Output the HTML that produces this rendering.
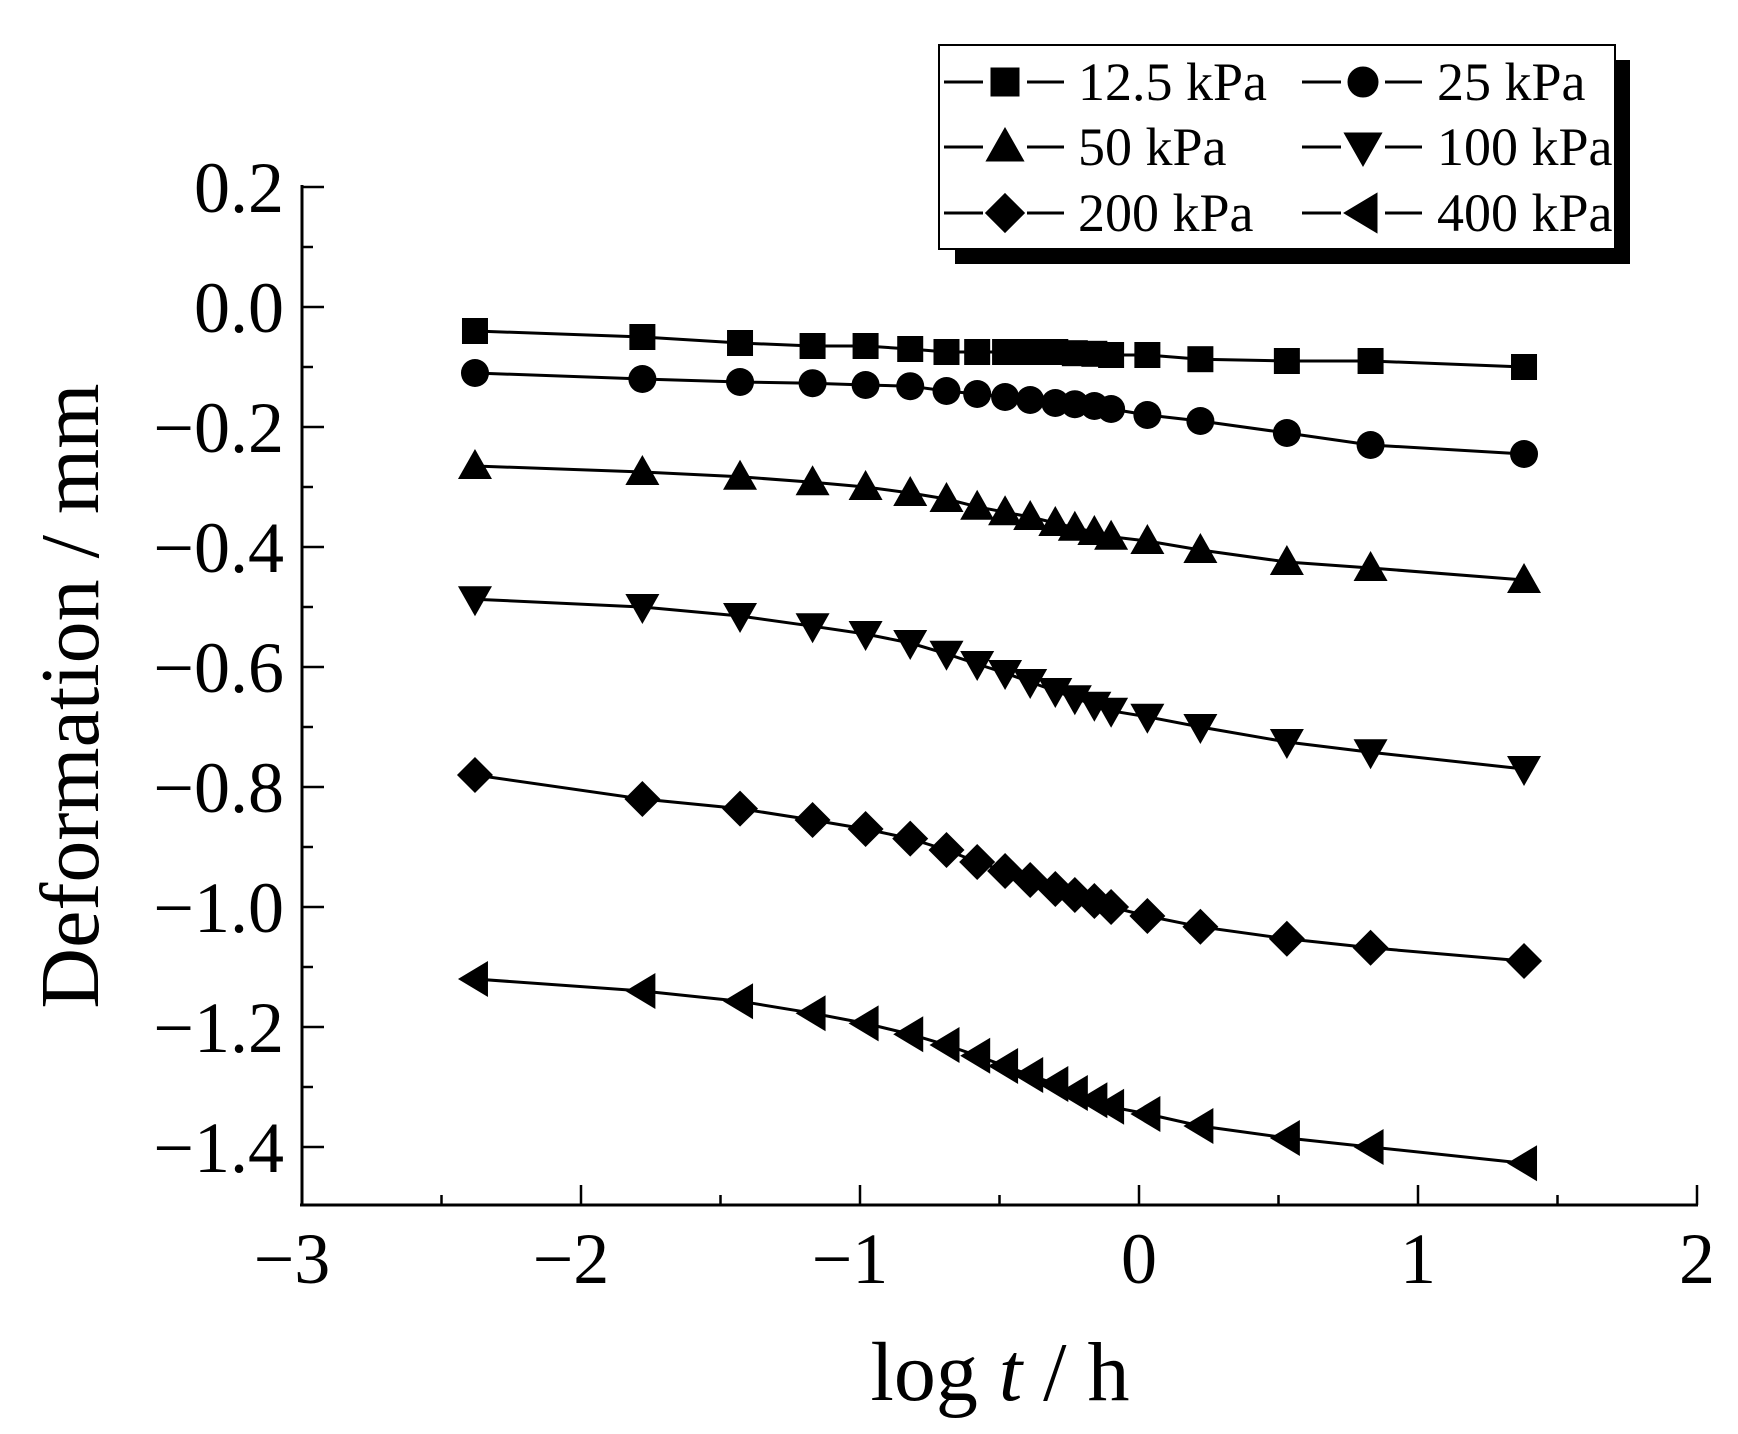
<!DOCTYPE html>
<html><head><meta charset="utf-8"><style>
html,body{margin:0;padding:0;background:#fff}
svg{display:block}
text{font-family:"Liberation Serif",serif;fill:#000}
</style></head><body>
<svg id="s" width="1738" height="1434" viewBox="0 0 1738 1434" xmlns="http://www.w3.org/2000/svg">
<rect width="1738" height="1434" fill="#fff"/>
<g id="axes" stroke="#000" stroke-width="3" fill="none">
<line x1="302" y1="185" x2="302" y2="1206"/>
<line x1="300" y1="1205" x2="1698" y2="1205"/>
</g>
<g id="ticks" stroke="#000" stroke-width="2.5"></g>
<g id="data"></g>
<g font-size="72" text-anchor="end">
<text x="284" y="212">0.2</text>
<text x="284" y="332">0.0</text>
<text x="284" y="452">−0.2</text>
<text x="284" y="572">−0.4</text>
<text x="284" y="692">−0.6</text>
<text x="284" y="812">−0.8</text>
<text x="284" y="932">−1.0</text>
<text x="284" y="1052">−1.2</text>
<text x="284" y="1172">−1.4</text>
</g>
<g font-size="72" text-anchor="middle">
<text x="292" y="1283">−3</text>
<text x="571" y="1283">−2</text>
<text x="850" y="1283">−1</text>
<text x="1139" y="1283">0</text>
<text x="1418" y="1283">1</text>
<text x="1697" y="1283">2</text>
</g>
<text x="1000" y="1400" font-size="84" text-anchor="middle">log <tspan font-style="italic">t</tspan> / h</text>
<text transform="translate(98,696) rotate(-90)" font-size="84" text-anchor="middle">Deformation / mm</text>
<rect x="955" y="60" width="675" height="204" fill="#000"/>
<rect x="939" y="45" width="676" height="204" fill="#fff" stroke="#000" stroke-width="2"/>
<g id="leg" stroke="#000" stroke-width="3"></g>
<g font-size="54">
<text x="1078" y="100">12.5 kPa</text>
<text x="1437" y="100">25 kPa</text>
<text x="1078" y="165">50 kPa</text>
<text x="1437" y="165">100 kPa</text>
<text x="1078" y="231">200 kPa</text>
<text x="1437" y="231">400 kPa</text>
</g>
</svg>
<script>
var NS="http://www.w3.org/2000/svg";
function el(p,t,a){var e=document.createElementNS(NS,t);for(var k in a)e.setAttribute(k,a[k]);p.appendChild(e);return e;}
var X=function(v){return 302+(v+3)*279;}, Y=function(v){return 307-v*600;};
var tk=document.getElementById('ticks');
for(var i=0;i<=16;i++){var v=0.2-i*0.1,y=Y(v),L=(i%2==0)?22:11;el(tk,'line',{x1:302,y1:y,x2:302+L,y2:y});}
for(var i=0;i<=10;i++){var x=X(-3+i*0.5),L=(i%2==0)?20:10;el(tk,'line',{x1:x,y1:1205,x2:x,y2:1205-L});}
var xs=[-2.38,-1.78,-1.43,-1.17,-0.98,-0.82,-0.69,-0.58,-0.48,-0.39,-0.30,-0.23,-0.16,-0.10,0.03,0.22,0.53,0.83,1.38];
var S=[
[-0.04,-0.05,-0.06,-0.065,-0.065,-0.07,-0.075,-0.075,-0.075,-0.075,-0.075,-0.077,-0.078,-0.08,-0.08,-0.087,-0.09,-0.09,-0.10],
[-0.11,-0.12,-0.125,-0.127,-0.13,-0.132,-0.14,-0.145,-0.15,-0.155,-0.16,-0.162,-0.165,-0.17,-0.18,-0.19,-0.21,-0.23,-0.245],
[-0.265,-0.275,-0.283,-0.292,-0.30,-0.31,-0.32,-0.333,-0.342,-0.35,-0.36,-0.368,-0.375,-0.383,-0.39,-0.405,-0.425,-0.435,-0.455],
[-0.487,-0.5,-0.515,-0.532,-0.545,-0.56,-0.578,-0.595,-0.61,-0.625,-0.64,-0.652,-0.663,-0.673,-0.683,-0.70,-0.725,-0.742,-0.77],
[-0.78,-0.82,-0.836,-0.855,-0.87,-0.886,-0.905,-0.925,-0.94,-0.955,-0.97,-0.98,-0.99,-1.0,-1.015,-1.033,-1.053,-1.068,-1.09],
[-1.12,-1.14,-1.157,-1.177,-1.194,-1.212,-1.23,-1.248,-1.265,-1.28,-1.295,-1.31,-1.322,-1.333,-1.345,-1.365,-1.385,-1.40,-1.427]];
function mk(g,t,x,y){
 if(t==0)el(g,'rect',{x:x-13,y:y-13,width:26,height:26});
 else if(t==1)el(g,'circle',{cx:x,cy:y,r:14});
 else if(t==2)el(g,'polygon',{points:(x-17)+','+(y+13)+' '+(x+17)+','+(y+13)+' '+x+','+(y-17)});
 else if(t==3)el(g,'polygon',{points:(x-17)+','+(y-13)+' '+(x+17)+','+(y-13)+' '+x+','+(y+17)});
 else if(t==4)el(g,'polygon',{points:x+','+(y-18)+' '+(x+18)+','+y+' '+x+','+(y+18)+' '+(x-18)+','+y});
 else el(g,'polygon',{points:(x+13)+','+(y-18)+' '+(x+13)+','+(y+18)+' '+(x-17)+','+y});}
var d=document.getElementById('data');
S.forEach(function(s,k){var pts=s.map(function(v,i){return X(xs[i])+','+Y(v);}).join(' ');
 el(d,'polyline',{points:pts,fill:'none',stroke:'#000','stroke-width':3});
 s.forEach(function(v,i){mk(d,k,X(xs[i]),Y(v));});});
var lg=document.getElementById('leg');
var pos=[[1005,82],[1363,82],[1005,147],[1363,147],[1005,213],[1363,213]];
pos.forEach(function(p,k){el(lg,'line',{x1:p[0]-61,y1:p[1],x2:p[0]-22,y2:p[1]});el(lg,'line',{x1:p[0]+22,y1:p[1],x2:p[0]+59,y2:p[1]});mk(lg,k,p[0],p[1]);});
</script>
</body></html>
